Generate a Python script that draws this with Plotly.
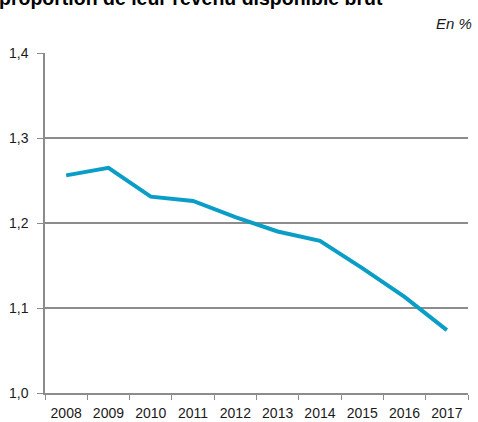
import plotly.graph_objects as go

years = ["2008", "2009", "2010", "2011", "2012", "2013", "2014", "2015", "2016", "2017"]
values = [1.256, 1.265, 1.231, 1.226, 1.207, 1.190, 1.179, 1.147, 1.113, 1.074]
y_ticks = [1.0, 1.1, 1.2, 1.3, 1.4]
y_tick_labels = ["1,0", "1,1", "1,2", "1,3", "1,4"]

title_text = "proportion de leur revenu disponible brut"
unit_text = "En %"

fig = go.Figure()
fig.add_trace(go.Scatter(
    x=years, y=values, mode="lines",
    line=dict(color="#0a9ec7", width=4),
    hoverinfo="skip",
))

fig.update_layout(
    width=478, height=422,
    margin=dict(l=45, r=10, t=53, b=29),
    paper_bgcolor="white", plot_bgcolor="white",
    showlegend=False,
    font=dict(family="Liberation Sans, Arial", size=14, color="#1a1a1a"),
)
fig.update_xaxes(
    type="category", range=[-0.5, 9.5], automargin=False,
    tickson="boundaries", ticks="outside", ticklen=5, tickcolor="#8c8c8c",
    ticklabelstandoff=6,
    showline=True, linecolor="#8c8c8c", linewidth=1.5,
    showgrid=False, zeroline=False,
)
fig.update_yaxes(
    range=[1.0, 1.4], tickvals=y_ticks, ticktext=y_tick_labels,
    automargin=False,
    ticks="outside", ticklen=6, tickcolor="#8c8c8c",
    ticklabelstandoff=6,
    showline=True, linecolor="#8c8c8c", linewidth=1.5,
    showgrid=True, gridcolor="#8c8c8c", gridwidth=1.5, zeroline=False,
)

fig.add_annotation(
    text="<b>" + title_text + "</b>", xref="paper", yref="paper",
    x=-48 / 423, y=1 + 55 / 340, xanchor="left", yanchor="middle",
    showarrow=False, font=dict(size=19.5, color="#000000"),
)
fig.add_annotation(
    text="<i>" + unit_text + "</i>", xref="paper", yref="paper",
    x=1 + 6 / 423, y=1 + 30 / 340, xanchor="right", yanchor="middle",
    showarrow=False, font=dict(size=15, color="#1a1a1a"),
)

# drop the default body margin so the figure sits at the window's corner
fig.write_html("out.html", config={"displayModeBar": False},
               post_script="document.body.style.margin='0';")
